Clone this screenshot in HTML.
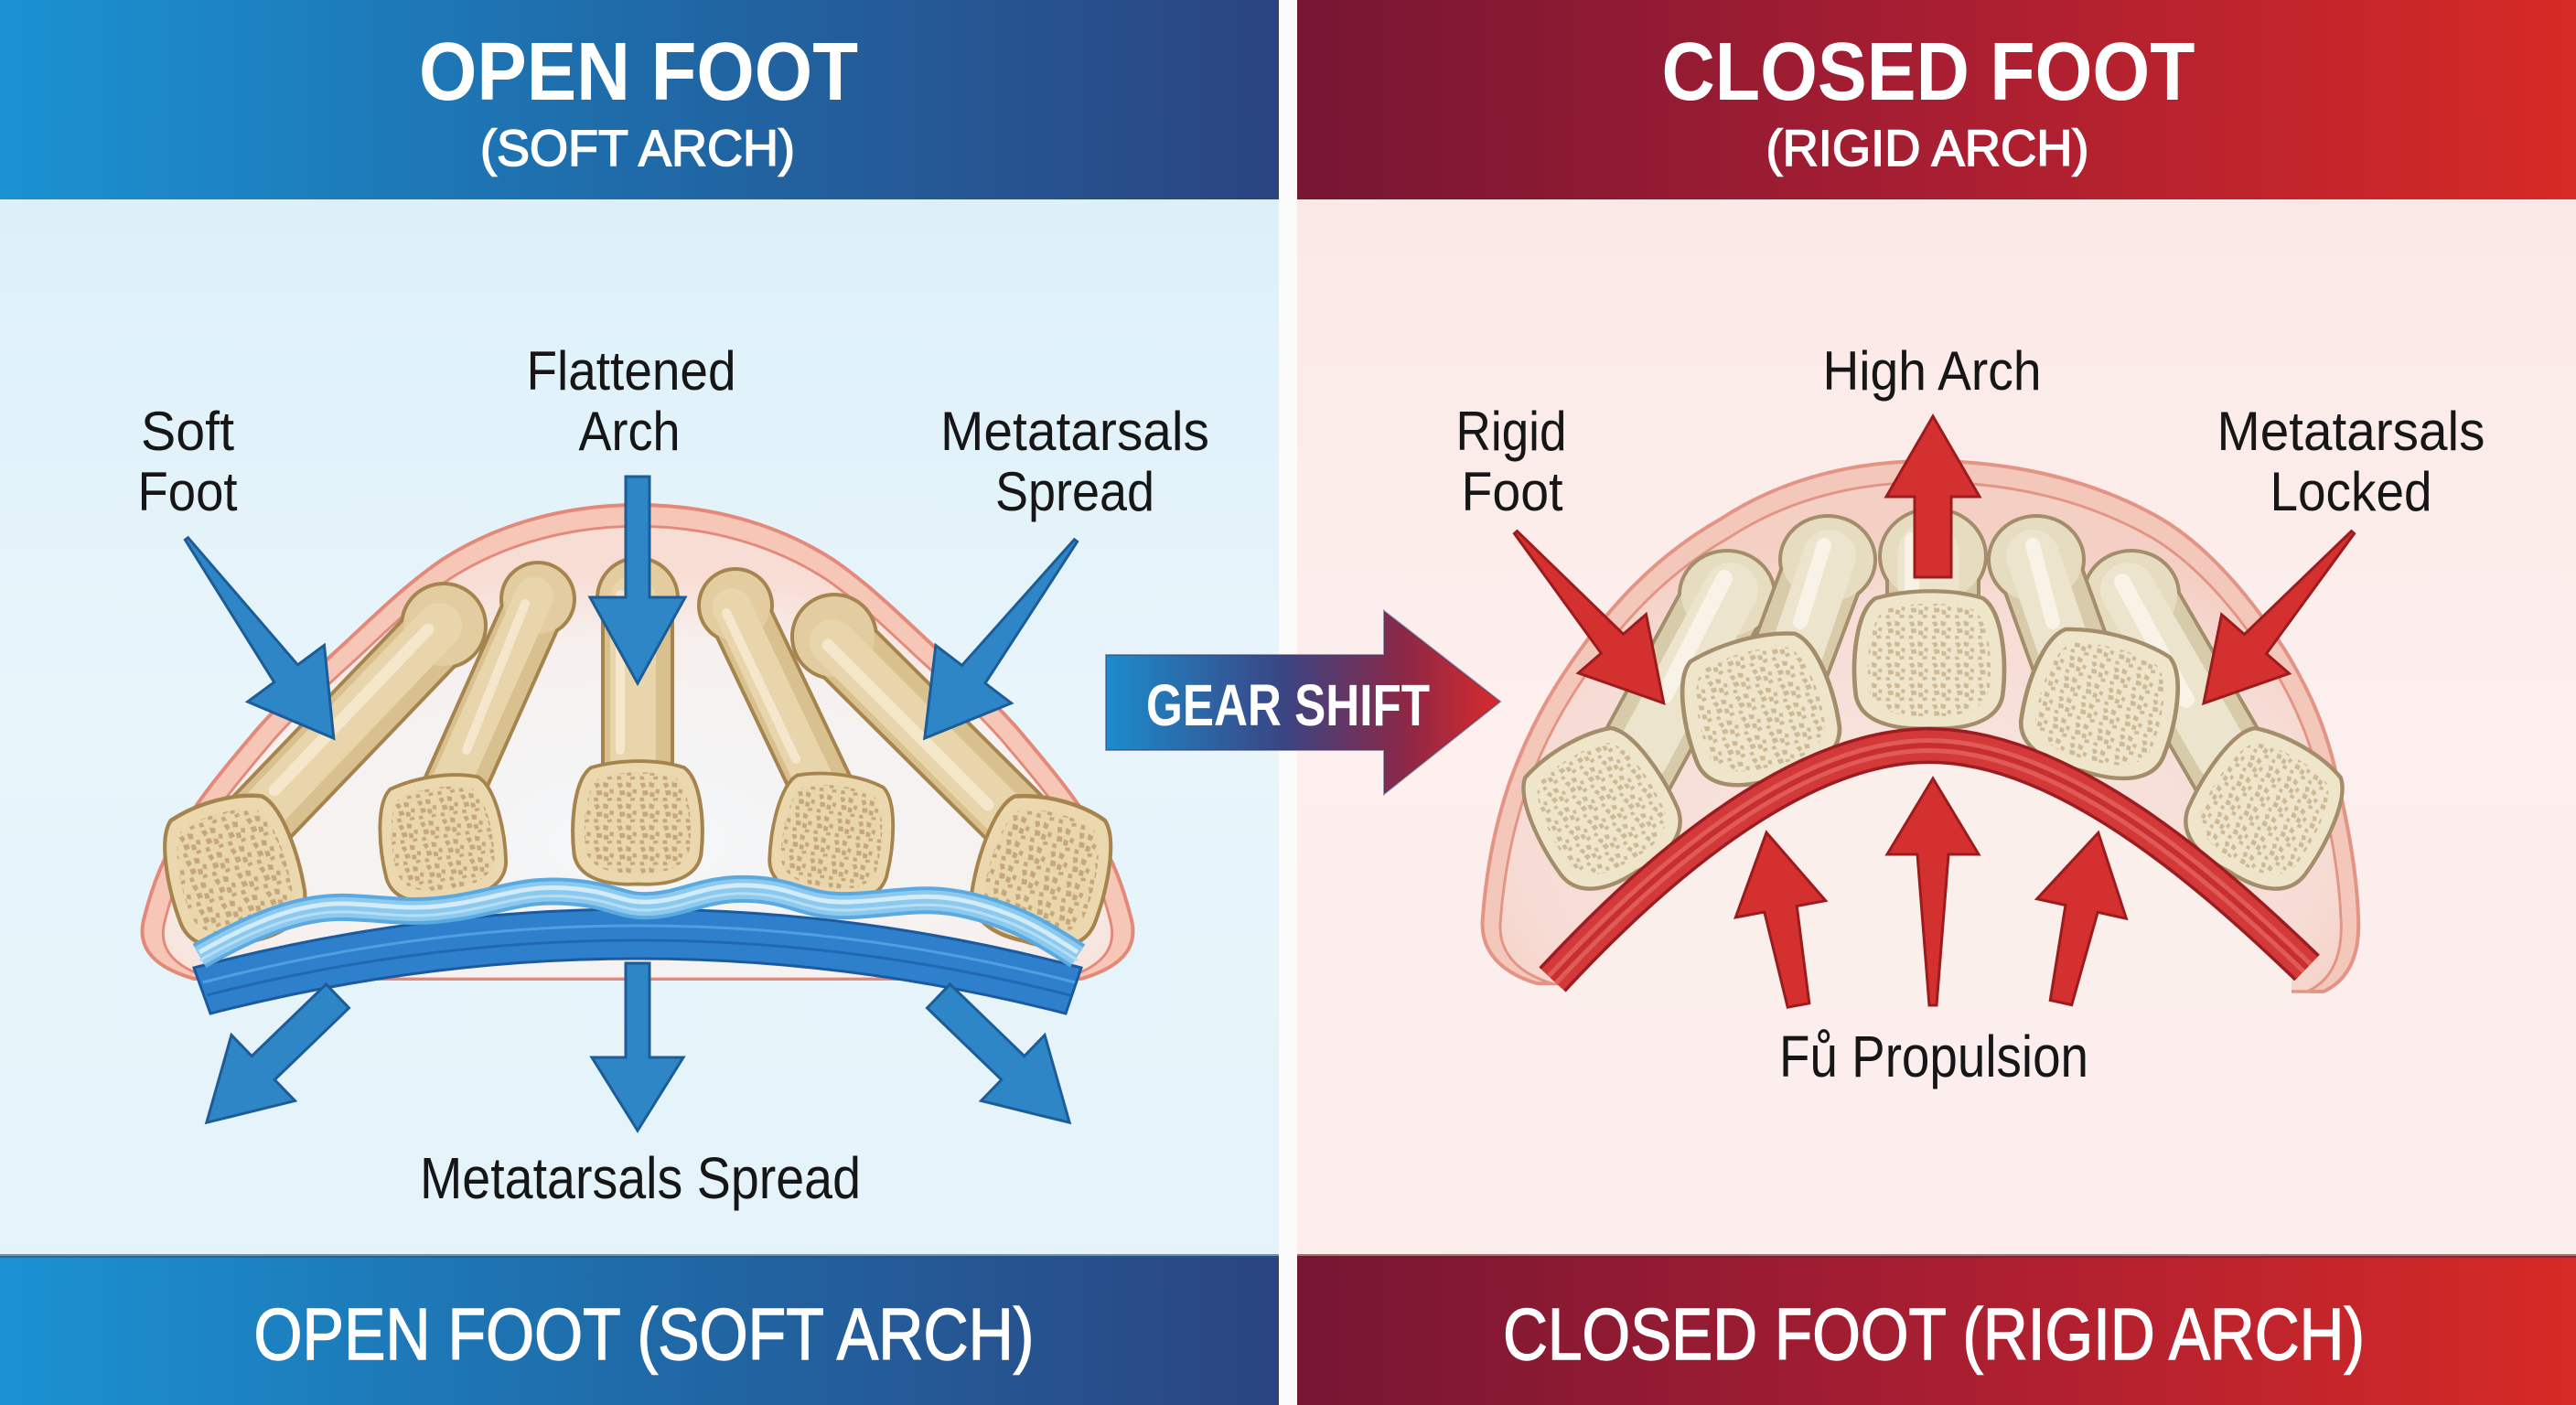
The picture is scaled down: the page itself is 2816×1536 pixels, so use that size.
<!DOCTYPE html>
<html><head><meta charset="utf-8">
<style>
html,body{margin:0;padding:0;background:#fff;}
svg{display:block;}
text{font-family:"Liberation Sans","DejaVu Sans",sans-serif;}
</style></head>
<body>
<svg width="2816" height="1536" viewBox="0 0 2816 1536" xmlns="http://www.w3.org/2000/svg">
<defs>
  <linearGradient id="hdrL" x1="0" x2="1" y1="0" y2="0">
    <stop offset="0" stop-color="#1b92d2"/><stop offset="0.5" stop-color="#1f6aa8"/><stop offset="1" stop-color="#2b4480"/>
  </linearGradient>
  <linearGradient id="hdrR" x1="0" x2="1" y1="0" y2="0">
    <stop offset="0" stop-color="#761633"/><stop offset="0.5" stop-color="#a81e32"/><stop offset="1" stop-color="#d62a26"/>
  </linearGradient>
  <linearGradient id="bodyL" x1="0" x2="0" y1="0" y2="1">
    <stop offset="0" stop-color="#d8eef8"/><stop offset="0.5" stop-color="#e8f5fb"/><stop offset="1" stop-color="#e3f3fa"/>
  </linearGradient>
  <linearGradient id="bodyR" x1="0" x2="0" y1="0" y2="1">
    <stop offset="0" stop-color="#fae6e4"/><stop offset="0.5" stop-color="#fcefed"/><stop offset="1" stop-color="#fbedeb"/>
  </linearGradient>
  <linearGradient id="gear" x1="1209" x2="1640" y1="0" y2="0" gradientUnits="userSpaceOnUse">
    <stop offset="0" stop-color="#1c8ccc"/><stop offset="0.45" stop-color="#3a4584"/><stop offset="0.75" stop-color="#8a2848"/><stop offset="1" stop-color="#d92a2c"/>
  </linearGradient>
  <radialGradient id="domeInL" cx="0.5" cy="0.7" r="0.6">
    <stop offset="0" stop-color="#f4f7f9"/><stop offset="0.75" stop-color="#f6f0ee"/><stop offset="1" stop-color="#f8ddd4"/>
  </radialGradient>
  <radialGradient id="domeInR" cx="0.5" cy="0.7" r="0.6">
    <stop offset="0" stop-color="#f8e6e1"/><stop offset="0.8" stop-color="#f6dcd4"/><stop offset="1" stop-color="#f4cfc4"/>
  </radialGradient>
  <pattern id="spL" width="30" height="30" patternUnits="userSpaceOnUse">
    <rect width="30" height="30" fill="#e9d6ac"/>
    <path d="M3,4 l6,-1 2,5 -5,3z M15,2 l7,2 -1,6 -6,-1z M24,12 l5,1 -1,6 -5,-2z M6,14 l7,0 1,6 -7,1z M16,16 l6,1 0,6 -6,0z M3,24 l5,0 1,5 -6,0z M20,25 l6,-1 1,4 -6,1z" fill="#c5a779"/>
  </pattern>
  <pattern id="spR" width="26" height="26" patternUnits="userSpaceOnUse">
    <rect width="26" height="26" fill="#efe5cb"/>
    <path d="M3,4 l5,-1 2,4 -4,3z M13,2 l6,2 -1,5 -5,-1z M21,10 l4,1 -1,5 -4,-2z M5,12 l6,0 1,5 -6,1z M14,14 l5,1 0,5 -5,0z M3,21 l4,0 1,4 -5,0z M18,21 l5,-1 1,4 -5,1z" fill="#cdb994"/>
  </pattern>
  <path id="base" d="M-50,-64 C-18,-74 22,-74 50,-64 C68,-50 72,0 68,36 C64,62 36,72 0,70 C-36,72 -64,62 -68,36 C-72,0 -68,-50 -50,-64Z"/>
</defs>

<!-- LEFT PANEL -->
<rect x="0" y="0" width="1398" height="1536" fill="url(#bodyL)"/>
<rect x="0" y="0" width="1398" height="218" fill="url(#hdrL)"/>
<rect x="0" y="1373" width="1398" height="163" fill="url(#hdrL)"/>
<rect x="0" y="1371" width="1398" height="4" fill="#1d5688" opacity="0.6"/>
<!-- separator -->
<rect x="1398" y="0" width="20" height="1536" fill="#fbfbfb"/>
<!-- RIGHT PANEL -->
<rect x="1418" y="0" width="1398" height="1536" fill="url(#bodyR)"/>
<rect x="1418" y="0" width="1398" height="218" fill="url(#hdrR)"/>
<rect x="1418" y="1373" width="1398" height="163" fill="url(#hdrR)"/>
<rect x="1418" y="1371" width="1398" height="4" fill="#7a1a28" opacity="0.6"/>

<!-- Headers -->
<text x="698" y="109" font-size="90" font-weight="bold" fill="#fff" text-anchor="middle" textLength="480" lengthAdjust="spacingAndGlyphs">OPEN FOOT</text>
<text x="697" y="181" font-size="56" fill="#fff" text-anchor="middle" textLength="344" lengthAdjust="spacingAndGlyphs" stroke="#fff" stroke-width="1.6">(SOFT ARCH)</text>
<text x="2108" y="109" font-size="90" font-weight="bold" fill="#fff" text-anchor="middle" textLength="583" lengthAdjust="spacingAndGlyphs">CLOSED FOOT</text>
<text x="2107" y="181" font-size="56" fill="#fff" text-anchor="middle" textLength="353" lengthAdjust="spacingAndGlyphs" stroke="#fff" stroke-width="1.6">(RIGID ARCH)</text>

<!-- Footers -->
<text x="704" y="1486" font-size="80" fill="#fff" text-anchor="middle" textLength="853" lengthAdjust="spacingAndGlyphs" stroke="#fff" stroke-width="1.4">OPEN FOOT (SOFT ARCH)</text>
<text x="2114" y="1486" font-size="80" fill="#fff" text-anchor="middle" textLength="942" lengthAdjust="spacingAndGlyphs" stroke="#fff" stroke-width="1.4">CLOSED FOOT (RIGID ARCH)</text>

<!-- ============ LEFT FOOT ============ -->
<path d="M 212,1070 C 160,1055 150,1030 158,1002 C 165,975 172,955 183,933 C 210,880 245,840 283,795 C 310,765 345,732 376,704 C 410,672 445,638 483,612 C 545,572 620,552 697,552 C 774,552 849,572 911,612 C 949,638 984,672 1018,704 C 1049,732 1084,765 1111,795 C 1149,840 1184,880 1211,933 C 1222,955 1229,975 1236,1002 C 1244,1030 1234,1055 1182,1070 Z" fill="#f6c6b7" stroke="#e4887a" stroke-width="4"/>
<path transform="translate(697,1070) scale(0.958,0.955) translate(-697,-1070)" d="M 212,1070 C 160,1055 150,1030 158,1002 C 165,975 172,955 183,933 C 210,880 245,840 283,795 C 310,765 345,732 376,704 C 410,672 445,638 483,612 C 545,572 620,552 697,552 C 774,552 849,572 911,612 C 949,638 984,672 1018,704 C 1049,732 1084,765 1111,795 C 1149,840 1184,880 1211,933 C 1222,955 1229,975 1236,1002 C 1244,1030 1234,1055 1182,1070 Z" fill="url(#domeInL)" stroke="#e4887a" stroke-width="3"/>

<!-- left bones: shafts + knobs -->
<g stroke-linecap="round">
  <!-- B1 -->
  <line x1="483" y1="688" x2="270" y2="910" stroke="#a5844e" stroke-width="80"/>
  <circle cx="485" cy="684" r="48" fill="#a5844e"/>
  <line x1="483" y1="688" x2="270" y2="910" stroke="#d9c08f" stroke-width="72"/>
  <circle cx="485" cy="684" r="44" fill="#e3cda0"/>
  <line x1="480" y1="684" x2="272" y2="902" stroke="#e8d5ab" stroke-width="50"/>
  <line x1="468" y1="688" x2="300" y2="864" stroke="#f4e7cb" stroke-width="13"/>
  <!-- B2 -->
  <line x1="588" y1="655" x2="492" y2="870" stroke="#a5844e" stroke-width="70"/>
  <circle cx="588" cy="655" r="42" fill="#a5844e"/>
  <line x1="588" y1="655" x2="492" y2="870" stroke="#d9c08f" stroke-width="62"/>
  <circle cx="588" cy="655" r="38" fill="#e3cda0"/>
  <line x1="584" y1="652" x2="490" y2="862" stroke="#e8d5ab" stroke-width="42"/>
  <line x1="574" y1="660" x2="510" y2="820" stroke="#f4e7cb" stroke-width="10"/>
  <!-- B3 -->
  <line x1="697" y1="658" x2="697" y2="860" stroke="#a5844e" stroke-width="80"/>
  <circle cx="697" cy="654" r="46" fill="#a5844e"/>
  <line x1="697" y1="658" x2="697" y2="860" stroke="#d9c08f" stroke-width="72"/>
  <circle cx="697" cy="654" r="42" fill="#e3cda0"/>
  <line x1="692" y1="654" x2="692" y2="860" stroke="#e8d5ab" stroke-width="50"/>
  <line x1="678" y1="650" x2="678" y2="820" stroke="#f4e7cb" stroke-width="10"/>
  <!-- B4 -->
  <line x1="804" y1="662" x2="902" y2="868" stroke="#a5844e" stroke-width="70"/>
  <circle cx="804" cy="662" r="42" fill="#a5844e"/>
  <line x1="804" y1="662" x2="902" y2="868" stroke="#d9c08f" stroke-width="62"/>
  <circle cx="804" cy="662" r="38" fill="#e3cda0"/>
  <line x1="800" y1="664" x2="896" y2="866" stroke="#e8d5ab" stroke-width="42"/>
  <line x1="794" y1="670" x2="870" y2="830" stroke="#f4e7cb" stroke-width="10"/>
  <!-- B5 -->
  <line x1="914" y1="700" x2="1125" y2="910" stroke="#a5844e" stroke-width="80"/>
  <circle cx="912" cy="696" r="48" fill="#a5844e"/>
  <line x1="914" y1="700" x2="1125" y2="910" stroke="#d9c08f" stroke-width="72"/>
  <circle cx="912" cy="696" r="44" fill="#e3cda0"/>
  <line x1="910" y1="702" x2="1120" y2="912" stroke="#e8d5ab" stroke-width="50"/>
  <line x1="905" y1="705" x2="1080" y2="880" stroke="#f4e7cb" stroke-width="13"/>
</g>
<!-- left bases -->
<g transform="translate(255,953) rotate(-15) scale(1.03,1.12)"><use href="#base" fill="#ebd8ae" stroke="#a5844e" stroke-width="4" vector-effect="non-scaling-stroke"/><use href="#base" transform="scale(0.82)" fill="url(#spL)"/></g>
<g transform="translate(483,917) rotate(-8) scale(0.97,0.96)"><use href="#base" fill="#ebd8ae" stroke="#a5844e" stroke-width="4" vector-effect="non-scaling-stroke"/><use href="#base" transform="scale(0.82)" fill="url(#spL)"/></g>
<g transform="translate(697,900) scale(1.02,0.95)"><use href="#base" fill="#ebd8ae" stroke="#a5844e" stroke-width="4" vector-effect="non-scaling-stroke"/><use href="#base" transform="scale(0.82)" fill="url(#spL)"/></g>
<g transform="translate(910,915) rotate(8) scale(0.95,0.96)"><use href="#base" fill="#ebd8ae" stroke="#a5844e" stroke-width="4" vector-effect="non-scaling-stroke"/><use href="#base" transform="scale(0.82)" fill="url(#spL)"/></g>
<g transform="translate(1140,953) rotate(15) scale(1.02,1.12)"><use href="#base" fill="#ebd8ae" stroke="#a5844e" stroke-width="4" vector-effect="non-scaling-stroke"/><use href="#base" transform="scale(0.82)" fill="url(#spL)"/></g>

<!-- blue plantar band -->
<path d="M 212,1058 Q 697,930 1182,1058 L 1165,1108 Q 697,988 230,1108 Z" fill="#2f80cc" stroke="#1b5a9e" stroke-width="3"/>
<path d="M 222,1074 Q 697,950 1175,1074" fill="none" stroke="#4f9fe2" stroke-width="3"/>
<path d="M 226,1088 Q 697,968 1170,1088" fill="none" stroke="#2168b4" stroke-width="3"/>
<path d="M 218,1045 C 280,1010 330,990 380,992 C 430,994 450,1000 500,992 C 550,984 570,972 620,975 C 670,978 680,992 710,990 C 750,988 770,970 820,972 C 870,974 880,992 930,990 C 980,988 1010,978 1060,990 C 1110,1002 1140,1020 1178,1045" fill="none" stroke="#5aa9e0" stroke-width="30"/>
<path d="M 218,1045 C 280,1010 330,990 380,992 C 430,994 450,1000 500,992 C 550,984 570,972 620,975 C 670,978 680,992 710,990 C 750,988 770,970 820,972 C 870,974 880,992 930,990 C 980,988 1010,978 1060,990 C 1110,1002 1140,1020 1178,1045" fill="none" stroke="#8cc9ee" stroke-width="22"/>
<path d="M 218,1041 C 280,1006 330,986 380,988 C 430,990 450,996 500,988 C 550,980 570,968 620,971 C 670,974 680,988 710,986 C 750,984 770,966 820,968 C 870,970 880,988 930,986 C 980,984 1010,974 1060,986 C 1110,998 1140,1016 1178,1041" fill="none" stroke="#d2ecfa" stroke-width="5"/>
<path d="M 218,1050 C 280,1015 330,995 380,997 C 430,999 450,1005 500,997 C 550,989 570,977 620,980 C 670,983 680,997 710,995 C 750,993 770,975 820,977 C 870,979 880,997 930,995 C 980,993 1010,983 1060,995 C 1110,1007 1140,1025 1178,1050" fill="none" stroke="#b5def5" stroke-width="3"/>

<!-- blue arrows -->
<g fill="#2e86c7" stroke="#1c5c97" stroke-width="3" stroke-linejoin="miter">
  <polygon transform="translate(204,589) rotate(53.6)" points="0,-2 183,-16 183,-52 271,0 183,52 183,16 0,2"/>
  <polygon transform="translate(697,521) rotate(90)" points="0,-13 132,-13 132,-52 226,0 132,52 132,13 0,13"/>
  <polygon transform="translate(1176,591) rotate(127.4)" points="0,-2 184,-16 184,-52 272,0 184,52 184,16 0,2"/>
  <polygon transform="translate(369,1089) rotate(136)" points="0,-18 113,-18 113,-50 199,0 113,50 113,18 0,18"/>
  <polygon transform="translate(697,1053) rotate(90)" points="0,-13 103,-13 103,-50 183,0 103,50 103,13 0,13"/>
  <polygon transform="translate(1026,1089) rotate(44)" points="0,-18 113,-18 113,-50 199,0 113,50 113,18 0,18"/>
</g>

<!-- left labels -->
<g font-size="60" fill="#161616" text-anchor="middle">
  <text x="690" y="426" textLength="229" lengthAdjust="spacingAndGlyphs">Flattened</text>
  <text x="688" y="492" textLength="111" lengthAdjust="spacingAndGlyphs">Arch</text>
  <text x="205" y="492" textLength="102" lengthAdjust="spacingAndGlyphs">Soft</text>
  <text x="205" y="558" textLength="109" lengthAdjust="spacingAndGlyphs">Foot</text>
  <text x="1175" y="492" textLength="294" lengthAdjust="spacingAndGlyphs">Metatarsals</text>
  <text x="1175" y="558" textLength="174" lengthAdjust="spacingAndGlyphs">Spread</text>
  <text x="700" y="1310" font-size="64" textLength="482" lengthAdjust="spacingAndGlyphs">Metatarsals Spread</text>
</g>

<!-- ============ GEAR SHIFT ============ -->
<polygon points="1209,716 1513,716 1513,668 1640,767 1513,868 1513,820 1209,820" fill="url(#gear)" stroke="#3a3a6a" stroke-width="2" stroke-opacity="0.5"/>
<text x="1408" y="793" font-size="64" font-weight="bold" fill="#fff" text-anchor="middle" textLength="310" lengthAdjust="spacingAndGlyphs">GEAR SHIFT</text>

<!-- ============ RIGHT FOOT ============ -->
<path d="M 1680,1075 C 1630,1060 1618,1030 1621,1002 C 1625,950 1635,900 1650,856 C 1670,800 1695,755 1727,711 C 1770,650 1820,602 1880,568 C 1950,522 2030,504 2109,504 C 2200,504 2290,525 2364,568 C 2420,602 2465,660 2498,711 C 2525,755 2545,800 2556,856 C 2566,900 2576,950 2578,1002 C 2580,1040 2570,1070 2540,1084 Z" fill="#f4c7bb" stroke="#e39484" stroke-width="4"/>
<path transform="translate(2105,1080) scale(0.96,0.96) translate(-2105,-1080)" d="M 1680,1075 C 1630,1060 1618,1030 1621,1002 C 1625,950 1635,900 1650,856 C 1670,800 1695,755 1727,711 C 1770,650 1820,602 1880,568 C 1950,522 2030,504 2109,504 C 2200,504 2290,525 2364,568 C 2420,602 2465,660 2498,711 C 2525,755 2545,800 2556,856 C 2566,900 2576,950 2578,1002 C 2580,1040 2570,1070 2540,1084 Z" fill="url(#domeInR)" stroke="#e39484" stroke-width="3"/>
<!-- area under arch -->
<path d="M 1715,1075 C 1815,968 1965,836 2109,836 C 2253,836 2405,968 2505,1066 L 2505,1100 L 1715,1100 Z" fill="#fbefec"/>

<!-- right bones shafts -->
<g stroke-linecap="round">
  <!-- B1 -->
  <line x1="1888" y1="650" x2="1785" y2="840" stroke="#a38d6a" stroke-width="96"/>
  <ellipse cx="1888" cy="650" rx="54" ry="50" fill="#a38d6a"/>
  <line x1="1888" y1="650" x2="1785" y2="840" stroke="#d8cbaa" stroke-width="88"/>
  <ellipse cx="1888" cy="650" rx="50" ry="46" fill="#e6dcc0"/>
  <line x1="1892" y1="645" x2="1795" y2="825" stroke="#ece4cc" stroke-width="60"/>
  <line x1="1885" y1="632" x2="1820" y2="760" stroke="#f8f3e6" stroke-width="18"/>
  <!-- B5 -->
  <line x1="2330" y1="650" x2="2440" y2="840" stroke="#a38d6a" stroke-width="96"/>
  <ellipse cx="2330" cy="650" rx="54" ry="50" fill="#a38d6a"/>
  <line x1="2330" y1="650" x2="2440" y2="840" stroke="#d8cbaa" stroke-width="88"/>
  <ellipse cx="2330" cy="650" rx="50" ry="46" fill="#e6dcc0"/>
  <line x1="2326" y1="645" x2="2430" y2="825" stroke="#ece4cc" stroke-width="60"/>
  <line x1="2320" y1="636" x2="2390" y2="765" stroke="#f8f3e6" stroke-width="18"/>
  <!-- B2 -->
  <line x1="1998" y1="612" x2="1950" y2="740" stroke="#a38d6a" stroke-width="92"/>
  <ellipse cx="1998" cy="612" rx="54" ry="50" fill="#a38d6a"/>
  <line x1="1998" y1="612" x2="1950" y2="740" stroke="#d8cbaa" stroke-width="84"/>
  <ellipse cx="1998" cy="612" rx="50" ry="46" fill="#e6dcc0"/>
  <line x1="2000" y1="608" x2="1958" y2="730" stroke="#ece4cc" stroke-width="58"/>
  <line x1="1994" y1="596" x2="1968" y2="680" stroke="#f8f3e6" stroke-width="16"/>
  <!-- B4 -->
  <line x1="2226" y1="612" x2="2272" y2="740" stroke="#a38d6a" stroke-width="92"/>
  <ellipse cx="2226" cy="612" rx="54" ry="50" fill="#a38d6a"/>
  <line x1="2226" y1="612" x2="2272" y2="740" stroke="#d8cbaa" stroke-width="84"/>
  <ellipse cx="2226" cy="612" rx="50" ry="46" fill="#e6dcc0"/>
  <line x1="2222" y1="608" x2="2264" y2="730" stroke="#ece4cc" stroke-width="58"/>
  <line x1="2222" y1="596" x2="2244" y2="680" stroke="#f8f3e6" stroke-width="16"/>
  <!-- B3 -->
  <line x1="2113" y1="610" x2="2113" y2="690" stroke="#a38d6a" stroke-width="104"/>
  <ellipse cx="2113" cy="608" rx="60" ry="54" fill="#a38d6a"/>
  <line x1="2113" y1="610" x2="2113" y2="690" stroke="#d8cbaa" stroke-width="96"/>
  <ellipse cx="2113" cy="608" rx="56" ry="50" fill="#e6dcc0"/>
  <line x1="2108" y1="604" x2="2108" y2="690" stroke="#ece4cc" stroke-width="66"/>
  <line x1="2090" y1="590" x2="2090" y2="650" stroke="#f8f3e6" stroke-width="16"/>
</g>
<!-- right bases -->
<g transform="translate(1750,885) rotate(-30) scale(1.08,1.12)"><use href="#base" fill="#efe5ca" stroke="#a38d6a" stroke-width="4" vector-effect="non-scaling-stroke"/><use href="#base" transform="scale(0.82)" fill="url(#spR)"/></g>
<g transform="translate(2476,885) rotate(30) scale(1.08,1.12)"><use href="#base" fill="#efe5ca" stroke="#a38d6a" stroke-width="4" vector-effect="non-scaling-stroke"/><use href="#base" transform="scale(0.82)" fill="url(#spR)"/></g>
<g transform="translate(1923,776) rotate(-15) scale(1.18,1.1)"><use href="#base" fill="#efe5ca" stroke="#a38d6a" stroke-width="4" vector-effect="non-scaling-stroke"/><use href="#base" transform="scale(0.82)" fill="url(#spR)"/></g>
<g transform="translate(2297,770) rotate(15) scale(1.18,1.08)"><use href="#base" fill="#efe5ca" stroke="#a38d6a" stroke-width="4" vector-effect="non-scaling-stroke"/><use href="#base" transform="scale(0.82)" fill="url(#spR)"/></g>
<g transform="translate(2109,722) scale(1.18,1.06)"><use href="#base" fill="#efe5ca" stroke="#a38d6a" stroke-width="4" vector-effect="non-scaling-stroke"/><use href="#base" transform="scale(0.82)" fill="url(#spR)"/></g>

<!-- red plantar band -->
<g fill="none" stroke-linecap="butt">
  <path d="M 1697,1071 C 1800,960 1960,815 2109,815 C 2258,815 2420,960 2522,1058" stroke="#9c1c20" stroke-width="40"/>
  <path d="M 1697,1071 C 1800,960 1960,815 2109,815 C 2258,815 2420,960 2522,1058" stroke="#d4393a" stroke-width="33"/>
  <path d="M 1697,1071 C 1800,960 1960,815 2109,815 C 2258,815 2420,960 2522,1058" stroke="#e05a56" stroke-width="16"/>
  <path d="M 1697,1071 C 1800,960 1960,815 2109,815 C 2258,815 2420,960 2522,1058" stroke="#c82e30" stroke-width="6"/>
</g>

<!-- red arrows -->
<g fill="#d3302f" stroke="#9c1b1c" stroke-width="3" stroke-linejoin="miter">
  <polygon transform="translate(2113,631) rotate(-90)" points="0,-20 88,-20 88,-51 176,0 88,51 88,20 0,20"/>
  <polygon transform="translate(1657,582) rotate(49.1)" points="0,-2 161,-16 161,-49 247,0 161,49 161,16 0,2"/>
  <polygon transform="translate(2572,582) rotate(131.1)" points="0,-2 162,-16 162,-49 248,0 162,49 162,16 0,2"/>
  <polygon transform="translate(2113,1099) rotate(-90)" points="0,-4 165,-17 165,-50 248,0 165,50 165,17 0,4"/>
  <polygon transform="translate(1966,1099) rotate(-100.5)" points="0,-12 107,-18 107,-50 192,0 107,50 107,18 0,12"/>
  <polygon transform="translate(2253,1096) rotate(-77.6)" points="0,-12 105,-18 105,-50 190,0 105,50 105,18 0,12"/>
</g>

<!-- right labels -->
<g font-size="60" fill="#161616" text-anchor="middle">
  <text x="2112" y="426" textLength="239" lengthAdjust="spacingAndGlyphs">High Arch</text>
  <text x="1652" y="492" textLength="121" lengthAdjust="spacingAndGlyphs">Rigid</text>
  <text x="1653" y="558" textLength="111" lengthAdjust="spacingAndGlyphs">Foot</text>
  <text x="2570" y="492" textLength="293" lengthAdjust="spacingAndGlyphs">Metatarsals</text>
  <text x="2570" y="558" textLength="177" lengthAdjust="spacingAndGlyphs">Locked</text>
  <text x="2114" y="1177" font-size="64" textLength="338" lengthAdjust="spacingAndGlyphs">Fů Propulsion</text>
</g>
</svg>
</body></html>
